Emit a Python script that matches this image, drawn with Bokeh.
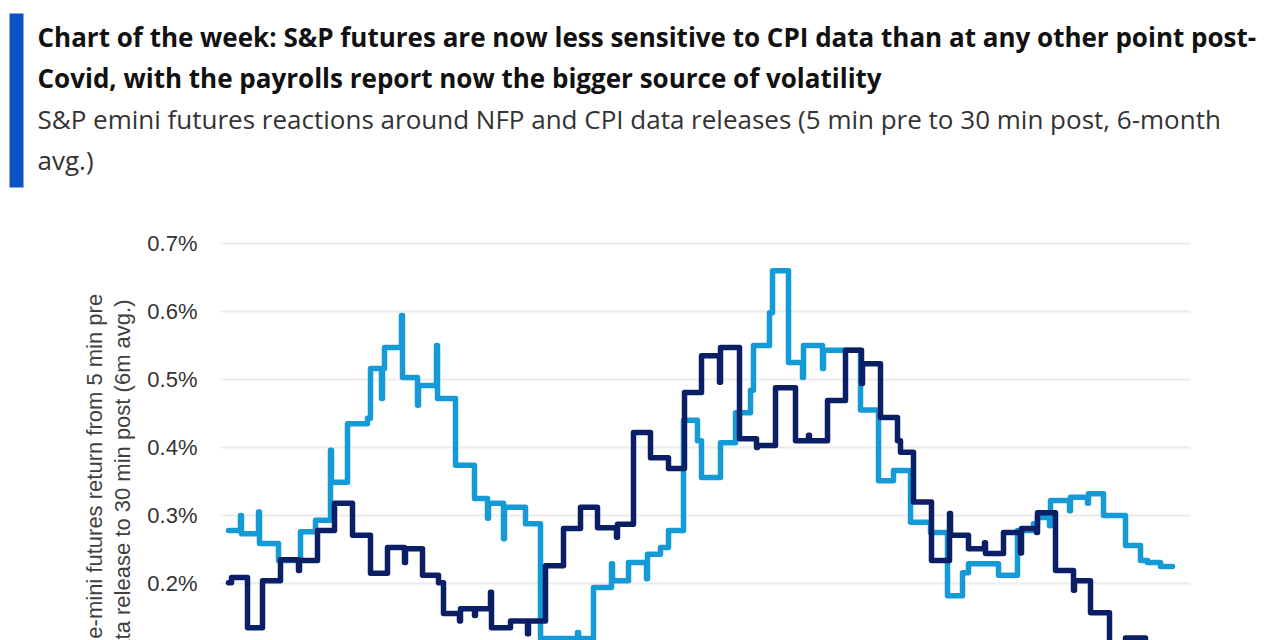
from math import pi
from bokeh.plotting import figure
from bokeh.models import Range1d, FixedTicker, PrintfTickFormatter
from bokeh.layouts import column
from bokeh.core.properties import value
from bokeh.embed import file_html
from bokeh.resources import INLINE

# ---------------- data ----------------
title_lines = [
    "Chart of the week: S&P futures are now less sensitive to CPI data than at any other point post-",
    "Covid, with the payrolls report now the bigger source of volatility",
]
subtitle_lines = [
    "S&P emini futures reactions around NFP and CPI data releases (5 min pre to 30 min post, 6-month",
    "avg.)",
]
y_axis_title_lines = [
    "S&P e-mini futures return from 5 min pre",
    "data release to 30 min post (6m avg.)",
]
y_ticks = [0.1, 0.2, 0.3, 0.4, 0.5, 0.6, 0.7]

# NFP (light blue) - 6m avg abs reaction, %, x in decimal years
nfp_dates = [2020.500, 2020.548, 2020.552, 2020.620, 2020.624, 2020.700, 2020.788, 2020.848,
             2020.908, 2020.912, 2020.976, 2021.056, 2021.068, 2021.112, 2021.116, 2021.124,
             2021.192, 2021.196, 2021.256, 2021.260, 2021.332, 2021.336, 2021.408, 2021.484,
             2021.536, 2021.540, 2021.600, 2021.604, 2021.688, 2021.748, 2021.896, 2021.900,
             2021.960, 2022.032, 2022.036, 2022.100, 2022.172, 2022.176, 2022.228, 2022.260,
             2022.320, 2022.376, 2022.392, 2022.468, 2022.528, 2022.588, 2022.600, 2022.664,
             2022.676, 2022.740, 2022.796, 2022.800, 2022.876, 2022.880, 2023.028, 2023.100,
             2023.160, 2023.228, 2023.308, 2023.376, 2023.436, 2023.460, 2023.580, 2023.656,
             2023.720, 2023.736, 2023.784, 2023.788, 2023.864, 2023.868, 2023.936, 2023.940,
             2024.000, 2024.088, 2024.148, 2024.176, 2024.228, 2024.276]
nfp_values = [0.278, 0.300, 0.273, 0.305, 0.259, 0.234, 0.276, 0.293,
              0.396, 0.349, 0.435, 0.443, 0.516, 0.472, 0.516, 0.547,
              0.594, 0.503, 0.462, 0.491, 0.550, 0.472, 0.374, 0.325,
              0.296, 0.318, 0.266, 0.312, 0.288, 0.119, 0.128, 0.119,
              0.194, 0.229, 0.204, 0.231, 0.207, 0.243, 0.253, 0.278,
              0.440, 0.410, 0.356, 0.407, 0.451, 0.484, 0.550, 0.598,
              0.660, 0.525, 0.503, 0.550, 0.516, 0.543, 0.455, 0.351,
              0.366, 0.290, 0.275, 0.182, 0.216, 0.229, 0.212, 0.278,
              0.288, 0.297, 0.285, 0.322, 0.307, 0.327, 0.318, 0.332,
              0.300, 0.256, 0.234, 0.231, 0.225, 0.225]

# CPI (dark navy)
cpi_dates = [2020.500, 2020.512, 2020.576, 2020.636, 2020.708, 2020.780, 2020.784, 2020.856,
             2020.924, 2020.996, 2021.068, 2021.136, 2021.204, 2021.208, 2021.276, 2021.340,
             2021.360, 2021.424, 2021.428, 2021.484, 2021.488, 2021.548, 2021.552, 2021.628,
             2021.696, 2021.700, 2021.768, 2021.840, 2021.908, 2021.976, 2022.052, 2022.056,
             2022.120, 2022.188, 2022.260, 2022.324, 2022.392, 2022.464, 2022.468, 2022.544,
             2022.612, 2022.616, 2022.688, 2022.768, 2022.820, 2022.824, 2022.896, 2022.968,
             2023.032, 2023.036, 2023.108, 2023.176, 2023.188, 2023.240, 2023.312, 2023.384,
             2023.388, 2023.460, 2023.524, 2023.528, 2023.600, 2023.668, 2023.672, 2023.732,
             2023.736, 2023.808, 2023.880, 2023.884, 2023.948, 2024.024, 2024.088, 2024.168,
             2024.276]
cpi_values = [0.201, 0.209, 0.135, 0.204, 0.235, 0.219, 0.234, 0.278,
              0.318, 0.271, 0.215, 0.253, 0.231, 0.251, 0.212, 0.201,
              0.156, 0.145, 0.163, 0.153, 0.163, 0.187, 0.135, 0.145,
              0.126, 0.145, 0.226, 0.281, 0.312, 0.282, 0.268, 0.287,
              0.422, 0.385, 0.369, 0.481, 0.535, 0.496, 0.547, 0.413,
              0.400, 0.403, 0.488, 0.410, 0.418, 0.410, 0.469, 0.543,
              0.494, 0.523, 0.444, 0.410, 0.393, 0.320, 0.234, 0.303,
              0.271, 0.251, 0.260, 0.244, 0.275, 0.245, 0.281, 0.275,
              0.304, 0.219, 0.190, 0.204, 0.157, 0.100, 0.120, 0.095,
              0.095]

# ---------------- styles / layout ----------------
W = 1280
HEAD_H = 200
CHART_H = 440
NAVY = "#0B1F66"
LIGHT = "#159AD8"
BAR = "#0A52C6"
HEAD_FONT = "Open Sans"
AXIS_FONT = "Liberation Sans"

# plotting area (in data units) inside the chart canvas
X_VIEW = (2019.588, 2024.708)     # whole canvas width
Y_VIEW = (0.1162, 0.7632)         # whole canvas height
PLOT_X = (2020.468, 2024.348)     # extent of the gridlines / axis position

# ---------------- header ----------------
head = figure(width=W, height=HEAD_H, x_range=Range1d(0, W), y_range=Range1d(HEAD_H, 0),
              output_backend="svg", toolbar_location=None, min_border=0)
head.axis.visible = False
head.grid.visible = False
head.outline_line_color = None
head.quad(left=[9], right=[23], top=[13], bottom=[187], color=BAR, line_color=None)
head.text(x=[37, 37], y=[36, 77], text=title_lines, text_font=value(HEAD_FONT),
          text_font_style="bold", text_font_size="26px", text_color="#111111",
          text_baseline="alphabetic", text_align="left")
head.text(x=[37, 37], y=[118, 159], text=subtitle_lines, text_font=value(HEAD_FONT),
          text_font_style="normal", text_font_size="26px", text_color="#333333",
          text_baseline="alphabetic", text_align="left")

# ---------------- chart ----------------
p = figure(width=W, height=CHART_H, x_range=Range1d(*X_VIEW), y_range=Range1d(*Y_VIEW),
           output_backend="svg", toolbar_location=None, min_border=0)
p.outline_line_color = None
p.xaxis.visible = False
p.grid.visible = False

# horizontal gridlines at the tick values
p.segment(x0=[PLOT_X[0]] * len(y_ticks), x1=[PLOT_X[1]] * len(y_ticks), y0=y_ticks, y1=y_ticks,
          line_color="#EBEBEB", line_width=2)

p.yaxis.fixed_location = PLOT_X[0]
p.yaxis.ticker = FixedTicker(ticks=y_ticks)
p.yaxis.formatter = PrintfTickFormatter(format="%.1f%%")
p.yaxis.axis_line_color = None
p.yaxis.major_tick_line_color = None
p.yaxis.minor_tick_line_color = None
p.yaxis.major_tick_out = 0
p.yaxis.major_tick_in = 0
p.yaxis.major_label_standoff = 23
p.yaxis.major_label_text_font = AXIS_FONT
p.yaxis.major_label_text_font_size = "22px"
p.yaxis.major_label_text_color = "#333333"

p.step(nfp_dates, nfp_values, mode="after", line_color=LIGHT, line_width=5.5,
       line_join="round", line_cap="round")
p.step(cpi_dates, cpi_values, mode="after", line_color=NAVY, line_width=5.5,
       line_join="round", line_cap="round")

# rotated y-axis title (two lines)
p.text(x=[2019.964, 2020.076], y=[0.6265, 0.6176], text=y_axis_title_lines, angle=pi / 2,
       text_align="right", text_baseline="alphabetic", text_font=value(AXIS_FONT),
       text_font_size="22px", text_color="#404040")

layout = column(head, p, spacing=0)
open("out.html", "w").write(file_html(layout, INLINE))
